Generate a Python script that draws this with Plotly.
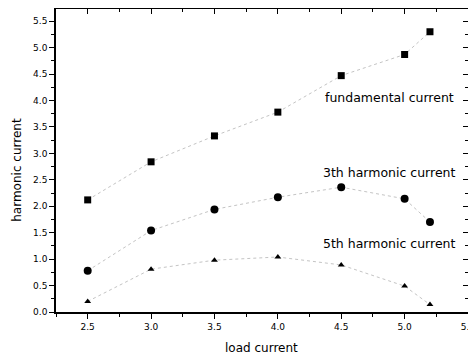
import plotly.graph_objects as go

load_current = [2.5, 3.0, 3.5, 4.0, 4.5, 5.0, 5.2]
fundamental = [2.12, 2.84, 3.33, 3.78, 4.47, 4.87, 5.30]
third = [0.78, 1.54, 1.94, 2.17, 2.36, 2.14, 1.70]
fifth = [0.20, 0.81, 0.98, 1.04, 0.89, 0.49, 0.14]

labels = ["fundamental current", "3th harmonic current", "5th harmonic current"]
label_x = [4.88, 4.88, 4.88]
label_y = [4.05, 2.63, 1.29]

FONT = "DejaVu Sans"
fig = go.Figure()
line_style = dict(color="#c4c4c4", width=1, dash="dot")
symbols = [("square", 7), ("circle", 8), ("triangle-up", 6)]
for ys, (sym, sz) in zip([fundamental, third, fifth], symbols):
    fig.add_trace(go.Scatter(x=load_current, y=ys, mode="lines+markers", line=line_style,
                             marker=dict(symbol=sym, size=sz, color="black"), showlegend=False))

for text, xx, yy in zip(labels, label_x, label_y):
    fig.add_annotation(x=xx, y=yy, text=text, showarrow=False,
                       font=dict(size=12.5, color="black", family=FONT))

fig.add_annotation(xref="paper", yref="paper", x=-0.095, y=0.469, xanchor="center", yanchor="middle",
                   text="harmonic current", textangle=-90, showarrow=False,
                   font=dict(size=12, color="black", family=FONT))
fig.add_annotation(xref="paper", yref="paper", x=0.498, y=-0.12, xanchor="center", yanchor="middle",
                   text="load current", showarrow=False,
                   font=dict(size=12, color="black", family=FONT))

axis_common = dict(showline=True, linecolor="black", linewidth=1.5, showgrid=False, zeroline=False,
                   ticklen=5, tickwidth=1, tickcolor="black", automargin=False,
                   tickfont=dict(size=9, color="black", family=FONT))

xt = [2.5, 3.0, 3.5, 4.0, 4.5, 5.0, 5.5]
xtl = ["2.5", "3.0", "3.5", "4.0", "4.5", "5.0", "5.5"]
yt = [0, 0.5, 1.0, 1.5, 2.0, 2.5, 3.0, 3.5, 4.0, 4.5, 5.0, 5.5]
ytl = ["0.0", "0.5", "1.0", "1.5", "2.0", "2.5", "3.0", "3.5", "4.0", "4.5", "5.0", "5.5"]

fig.update_layout(
    width=468, height=349,
    margin=dict(l=48, r=8, t=1, b=45),
    plot_bgcolor="white", paper_bgcolor="white",
    xaxis=dict(range=[2.25, 5.5], tickvals=xt, ticktext=xtl, ticks="outside",
               minor=dict(dtick=0.25, tick0=2.25, ticks="outside", ticklen=3, tickcolor="black"),
               **axis_common),
    yaxis=dict(range=[0, 5.73], tickvals=yt, ticktext=ytl, ticks="outside",
               minor=dict(dtick=0.25, tick0=0, ticks="outside", ticklen=3, tickcolor="black"),
               **axis_common),
    xaxis2=dict(overlaying="x", side="top", range=[2.25, 5.5], tickvals=xt,
                ticks="inside", showticklabels=False,
                minor=dict(dtick=0.25, tick0=2.25, ticks="inside", ticklen=3, tickcolor="black"),
                **axis_common),
    yaxis2=dict(overlaying="y", side="right", range=[0, 5.73], tickvals=yt,
                ticks="inside", showticklabels=False,
                minor=dict(dtick=0.25, tick0=0, ticks="inside", ticklen=3, tickcolor="black"),
                **axis_common),
)
fig.add_trace(go.Scatter(x=[None], y=[None], xaxis="x2", yaxis="y2", showlegend=False, hoverinfo="skip"))

fig.write_html("out.html")
